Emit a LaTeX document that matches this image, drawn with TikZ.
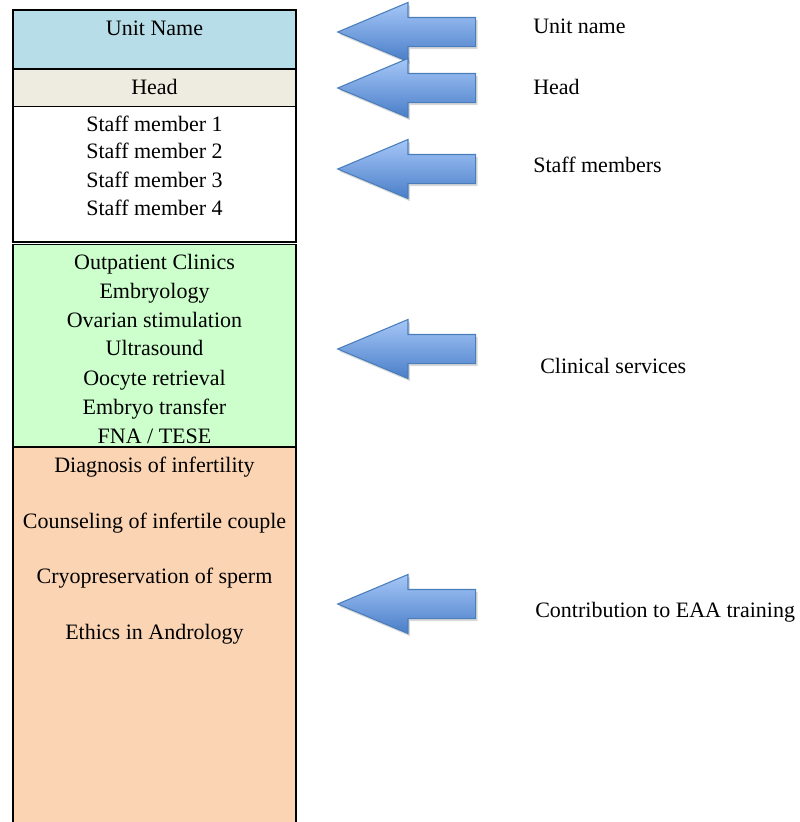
\documentclass[tikz,border=0pt]{standalone}
\usepackage{fontspec}
\setmainfont{Liberation Serif}
\usetikzlibrary{shapes.arrows,shadows}
\definecolor{unitblue}{RGB}{183,221,232}
\definecolor{headgray}{RGB}{238,236,225}
\definecolor{clingreen}{RGB}{204,255,204}
\definecolor{trainorange}{RGB}{251,212,180}
\definecolor{arrowtop}{RGB}{166,199,248}
\definecolor{arrowbot}{RGB}{74,126,200}
\definecolor{arrowline}{RGB}{74,126,187}
\begin{document}
\begin{tikzpicture}[x=0.75pt, y=-0.75pt,
    boxtext/.style={anchor=base, inner sep=0pt, font=\fontsize{16.5}{20}\selectfont},
    sidetext/.style={anchor=base west, inner sep=0pt, font=\fontsize{16.5}{20}\selectfont},
    pointer/.style={single arrow, draw=arrowline, line width=0.8pt,
        inner xsep=0pt, inner ysep=10.5pt,
        top color=arrowtop, bottom color=arrowbot, shape border rotate=180,
        minimum height=103.5pt,
        single arrow head extend=11.25pt, single arrow tip angle=45.6,
        drop shadow={shadow xshift=1.5pt, shadow yshift=-2pt, opacity=0.3}}]
    \def\boxl{13}
    \def\boxr{296}
    \def\boxm{154.5}
    \def\arrx{424}
    \useasboundingbox (0,0) rectangle (800,822);
    % column of boxes
    \draw[line width=1.1pt, fill=unitblue] (\boxl, 10) rectangle (\boxr, 69);
    \draw[line width=1.1pt, fill=headgray] (\boxl, 69) rectangle (\boxr, 106.5);
    \draw[line width=1.1pt, fill=white] (\boxl, 106.5) rectangle (\boxr, 242);
    \draw[line width=1.1pt, fill=clingreen] (\boxl, 244.5) rectangle (\boxr, 447);
    \draw[line width=1.1pt, fill=trainorange] (\boxl, 447) rectangle (\boxr, 824);
    % box texts
    \node[boxtext] (unit) at (\boxm, 35) {Unit Name};
    \node[boxtext] (head) at (\boxm, 94) {Head};
    \foreach \t/\y [count=\i] in {Staff member 1/131, Staff member 2/158,
        Staff member 3/187, Staff member 4/215}
        \node[boxtext] (staff\i) at (\boxm, \y) {\t};
    \foreach \t/\y [count=\i] in {Outpatient Clinics/269, Embryology/298,
        Ovarian stimulation/327, Ultrasound/355, Oocyte retrieval/385,
        Embryo transfer/414, {FNA / TESE}/443}
        \node[boxtext] (clin\i) at (\boxm, \y) {\t};
    \foreach \t/\y [count=\i] in {Diagnosis of infertility/472,
        Counseling of infertile couple/528, Cryopreservation of sperm/583,
        Ethics in Andrology/639}
        \node[boxtext] (train\i) at (\boxm, \y) {\t};
    % block arrows
    \node[pointer] (unitarrow) at (\arrx, 32) {};
    \node[pointer] (headarrow) at (\arrx, 88) {};
    \node[pointer] (staffarrow) at (\arrx, 169) {};
    \node[pointer] (clinarrow) at (\arrx, 349) {};
    \node[pointer] (trainarrow) at (\arrx, 604) {};
    % side labels
    \node[sidetext] (unitlabel) at (533, 33) {Unit name};
    \node[sidetext] (headlabel) at (533, 94) {Head};
    \node[sidetext] (stafflabel) at (533, 172) {Staff members};
    \node[sidetext] (clinlabel) at (540, 373) {Clinical services};
    \node[sidetext] (trainlabel) at (535, 617) {Contribution to EAA training};
\end{tikzpicture}
\end{document}
